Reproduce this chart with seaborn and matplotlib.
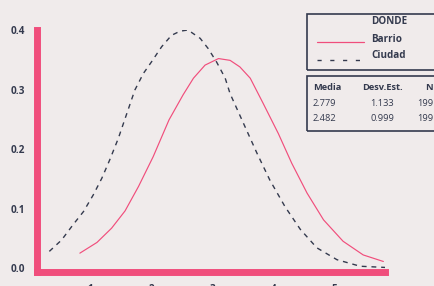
import numpy as np
import pandas as pd
import matplotlib as mpl
mpl.use("Agg")
from matplotlib import pyplot as plt
from matplotlib.patches import Rectangle
from matplotlib.lines import Line2D
import seaborn as sns

# density curves
barrio_x = [0.83, 1.11, 1.35, 1.57, 1.79, 2.03, 2.29, 2.52, 2.69, 2.88, 3.10,
            3.29, 3.45, 3.62, 3.83, 4.08, 4.30, 4.55, 4.82, 5.14, 5.47, 5.80]
barrio_y = [0.025, 0.043, 0.067, 0.096, 0.137, 0.187, 0.249, 0.291, 0.319, 0.341, 0.352,
            0.349, 0.338, 0.319, 0.277, 0.226, 0.176, 0.126, 0.081, 0.045, 0.022, 0.011]
ciudad_x = [0.33, 0.53, 0.72, 0.89, 1.05, 1.19, 1.32, 1.46, 1.60, 1.73, 1.87, 2.00,
            2.17, 2.33, 2.47, 2.60, 2.80, 2.93, 3.07, 3.21, 3.29, 3.51, 3.73, 3.94,
            4.19, 4.44, 4.71, 5.04, 5.42, 5.83]
ciudad_y = [0.028, 0.047, 0.073, 0.095, 0.123, 0.151, 0.182, 0.218, 0.260, 0.299, 0.327, 0.346,
            0.372, 0.391, 0.398, 0.400, 0.386, 0.369, 0.346, 0.319, 0.293, 0.243, 0.193, 0.148,
            0.103, 0.065, 0.034, 0.014, 0.003, 0.001]

groups = ["Barrio", "Ciudad"]
medias = ["2.779", "2.482"]
desv = ["1.133", "0.999"]
n_obs = ["199", "199"]
y_ticks = [0.0, 0.1, 0.2, 0.3, 0.4]
x_ticks = [1, 2, 3, 4, 5]

pink = "#f04e7c"
dark = "#343a4e"
bg = "#f0ebeb"

df = pd.concat([
    pd.DataFrame({"x": barrio_x, "y": barrio_y, "DONDE": "Barrio"}),
    pd.DataFrame({"x": ciudad_x, "y": ciudad_y, "DONDE": "Ciudad"}),
])

sns.set_theme(style="white", rc={"figure.facecolor": bg, "axes.facecolor": bg})
plt.rcParams["font.family"] = ["Open Sans", "DejaVu Sans"]

fig = plt.figure(figsize=(4.35, 2.86), dpi=100)
ax = fig.add_axes([37 / 435, 14.4 / 286, 348.5 / 435, 241.6 / 286])

sns.lineplot(data=df, x="x", y="y", hue="DONDE", style="DONDE",
             palette={"Barrio": pink, "Ciudad": dark},
             dashes={"Barrio": "", "Ciudad": (3.5, 3.5)},
             sort=False, legend=False, ax=ax)
for ln, lw in zip(ax.lines, [0.85, 1.0]):
    ln.set_linewidth(lw)
    ln.set_solid_joinstyle("round")

ax.set_xlim(0.128, 5.835)
ax.set_ylim(-0.006, 0.4)
ax.set_xticks(x_ticks)
ax.set_yticks(y_ticks)
ax.set_yticklabels([f"{v:.1f}" for v in y_ticks])
ax.set_xlabel("")
ax.set_ylabel("")
for side in ["top", "right"]:
    ax.spines[side].set_visible(False)
for side in ["left", "bottom"]:
    ax.spines[side].set_color(pink)
    ax.spines[side].set_linewidth(5)
ax.tick_params(axis="both", direction="out", length=5.6, width=0.8, color=pink,
               labelsize=7.2, labelcolor=dark, pad=3)
for lab in ax.get_xticklabels() + ax.get_yticklabels():
    lab.set_fontweight("bold")

# legend box
W, H = 435, 286
def fx(px):
    return px / W
def fy(py):
    return 1 - py / H

fig.patches.append(Rectangle((fx(307), fy(70)), fx(140), 56.5 / H, transform=fig.transFigure,
                             fill=False, edgecolor=dark, linewidth=1.2))
fig.text(fx(371), fy(22), "DONDE", fontsize=7.1, fontweight="bold", color=dark, va="center")
fig.text(fx(371), fy(39), groups[0], fontsize=7.1, fontweight="bold", color=dark, va="center")
fig.text(fx(371), fy(55.5), groups[1], fontsize=7.1, fontweight="bold", color=dark, va="center")
fig.lines.append(Line2D([fx(317), fx(364)], [fy(42), fy(42)], transform=fig.transFigure,
                        color=pink, linewidth=0.9))
fig.lines.append(Line2D([fx(317), fx(365)], [fy(60), fy(60)], transform=fig.transFigure,
                        color=dark, linewidth=1.0, dashes=(3, 6.2)))

# stats table
fig.patches.append(Rectangle((fx(307), fy(131)), fx(140), 55 / H, transform=fig.transFigure,
                             fill=False, edgecolor=dark, linewidth=1.2))
fig.text(fx(313), fy(87), "Media", fontsize=6.7, fontweight="bold", color=dark, va="center")
fig.text(fx(382), fy(87), "Desv.Est.", fontsize=6.7, fontweight="bold", color=dark,
         va="center", ha="center")
fig.text(fx(429), fy(87), "N", fontsize=6.7, fontweight="bold", color=dark,
         va="center", ha="center")
for i in range(2):
    yy = fy(103.5 + 15 * i)
    fig.text(fx(313), yy, medias[i], fontsize=6.7, color=dark, va="center")
    fig.text(fx(382), yy, desv[i], fontsize=6.7, color=dark, va="center", ha="center")
    fig.text(fx(425), yy, n_obs[i], fontsize=6.7, color=dark, va="center", ha="center")

fig.savefig("out.png", dpi=100, facecolor=bg)
